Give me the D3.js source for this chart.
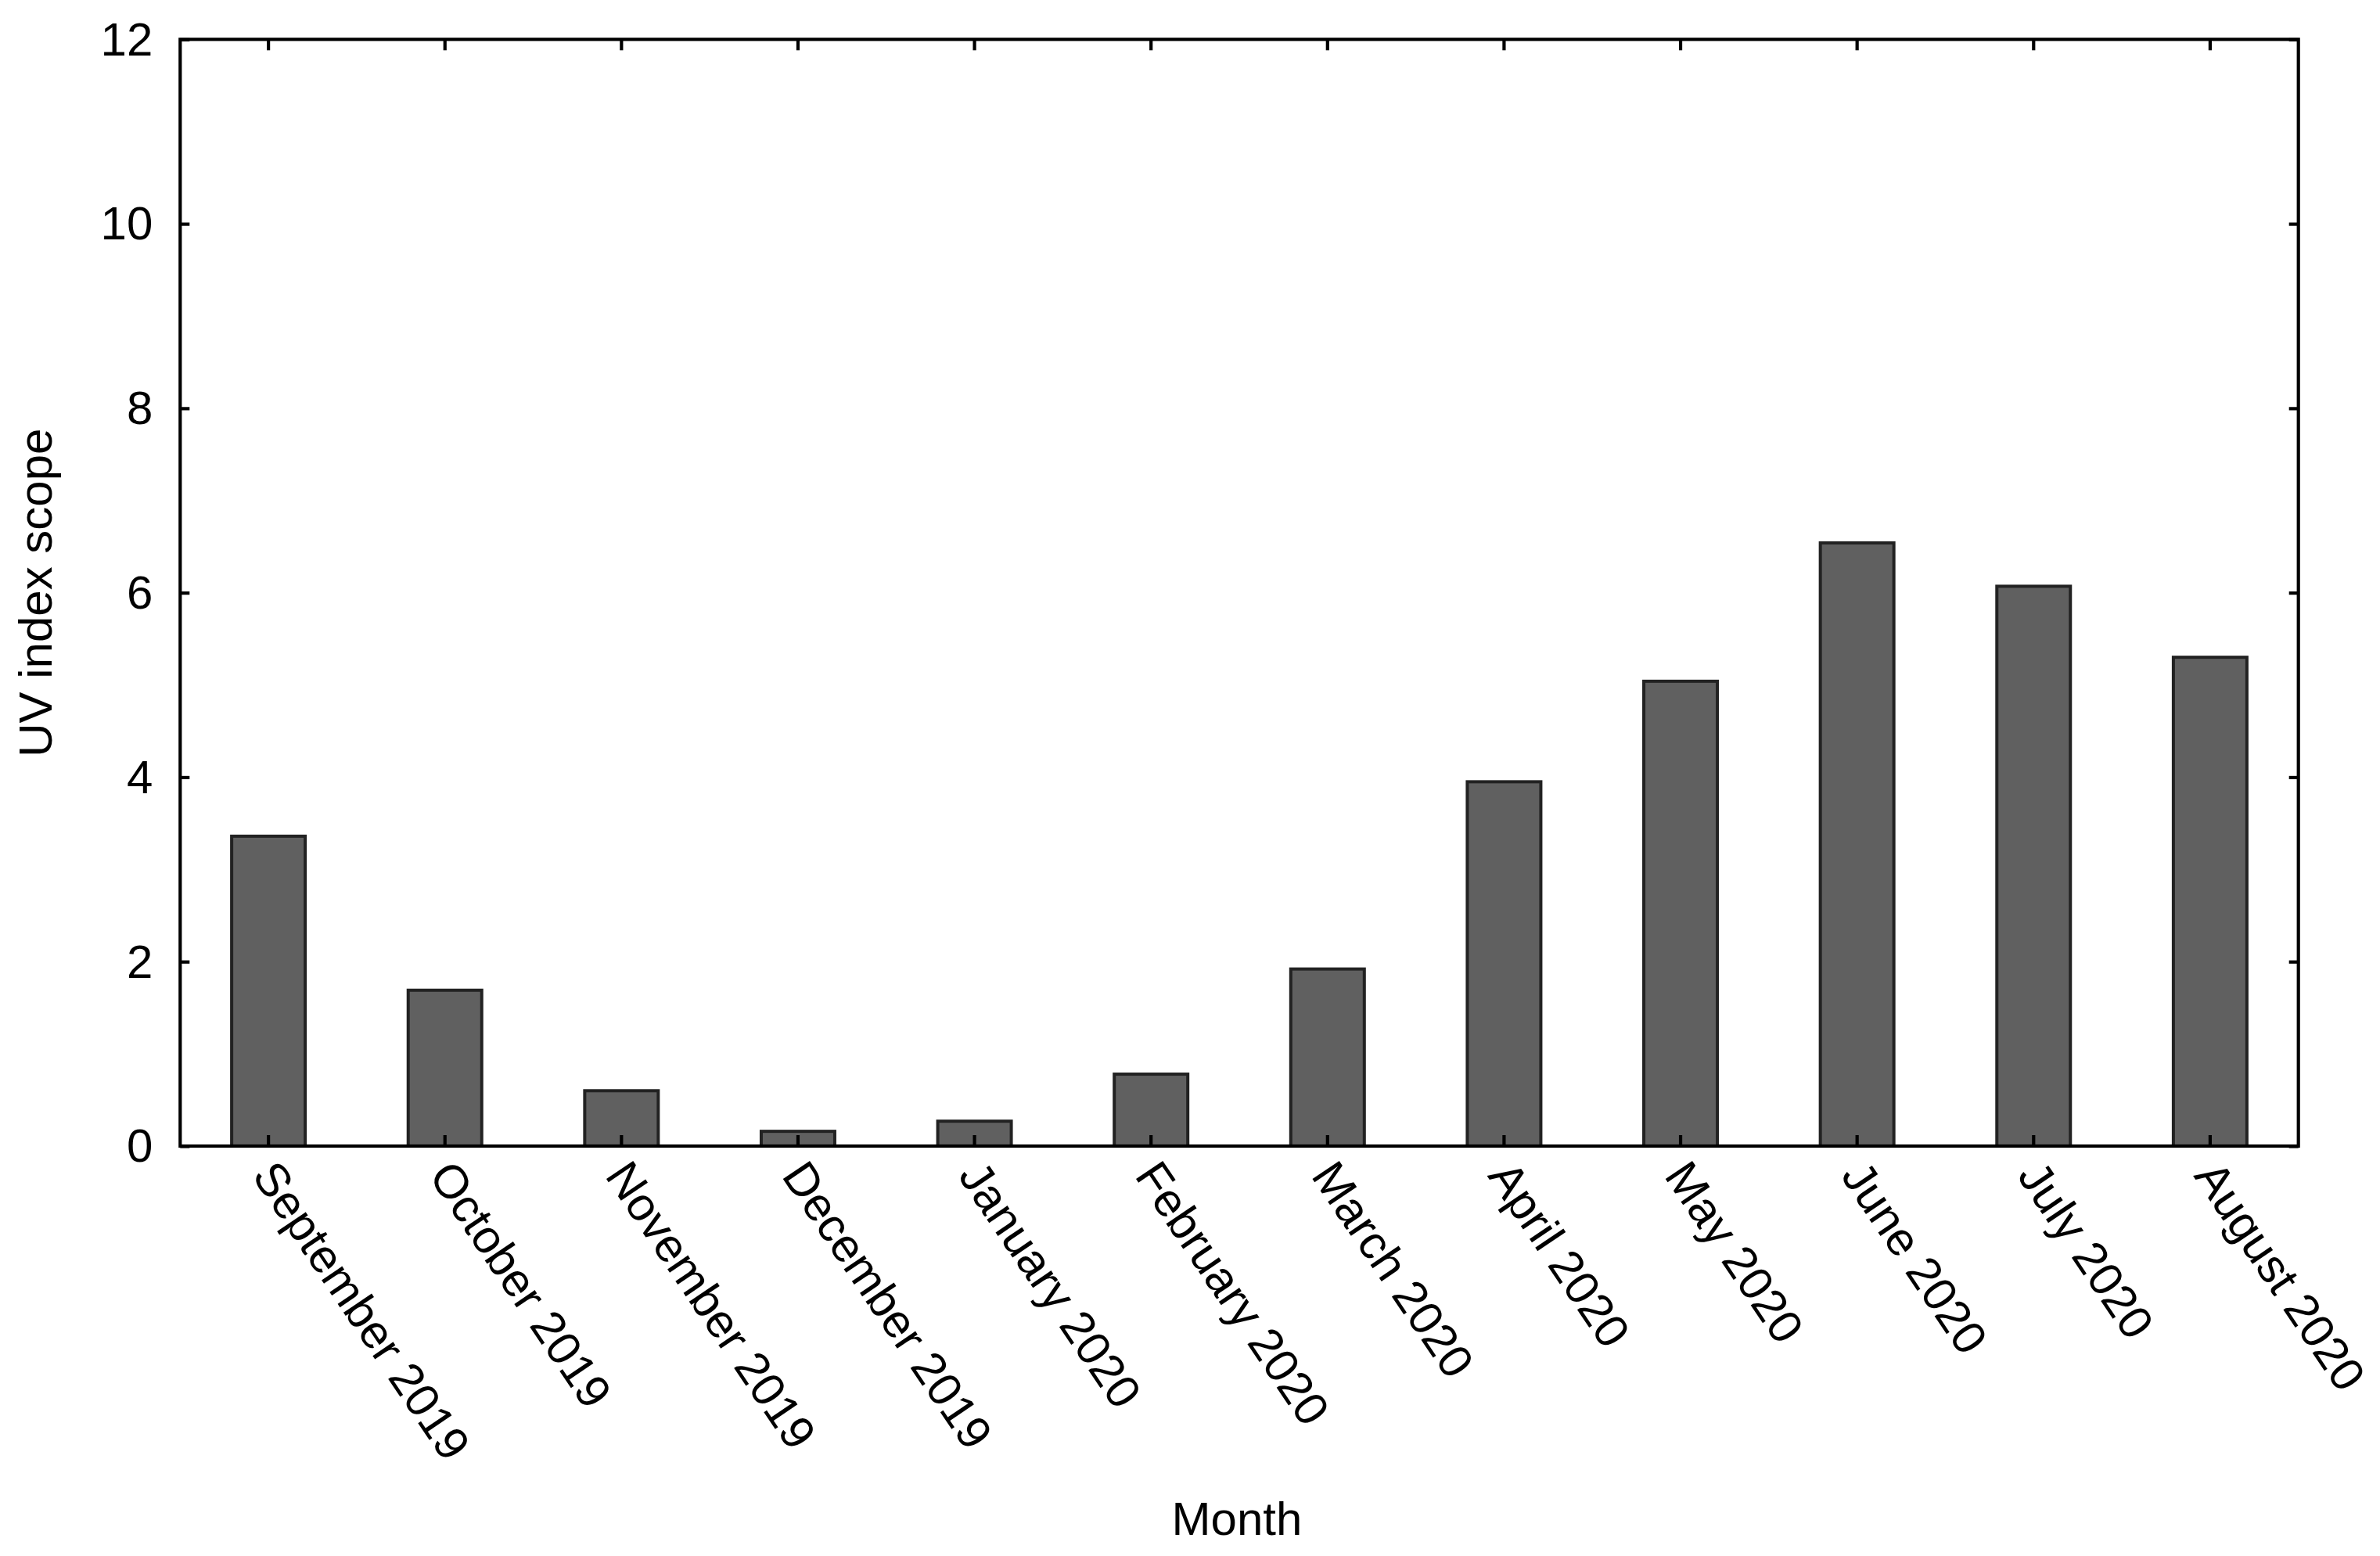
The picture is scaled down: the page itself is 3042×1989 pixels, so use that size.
<!DOCTYPE html>
<html>
<head>
<meta charset="utf-8">
<script src="https://cdn.jsdelivr.net/npm/d3@7"></script>
<style>
  html, body { margin: 0; padding: 0; background: #fff; }
  svg { display: block; }
  text { font-family: "Liberation Sans", Arial, sans-serif; fill: #000; }
</style>
</head>
<body>
<script>
const categories = ["September 2019", "October 2019", "November 2019", "December 2019",
  "January 2020", "February 2020", "March 2020", "April 2020", "May 2020",
  "June 2020", "July 2020", "August 2020"];
const uvValues = [3.36, 1.69, 0.60, 0.16, 0.27, 0.78, 1.92, 3.95, 5.04, 6.54, 6.07, 5.30];
const yTicks = [0, 2, 4, 6, 8, 10, 12];
const xTitle = "Month";
const yTitle = "UV index scope";

(function () {
const W = 3042, H = 1989;
const pLeft = 230.3, pRight = 2937.7, pTop = 50.3, pBottom = 1465;

const svg = d3.select("body").append("svg").attr("width", W).attr("height", H);

const x = d3.scaleBand().domain(categories).range([pLeft, pRight]).padding(0);
const y = d3.scaleLinear().domain([0, 12]).range([pBottom, pTop]);
const barW = 94;

// bars
svg.append("g").selectAll("rect").data(uvValues).join("rect")
  .attr("x", (d, i) => x(categories[i]) + x.bandwidth() / 2 - barW / 2)
  .attr("y", d => y(d))
  .attr("width", barW)
  .attr("height", d => pBottom - y(d))
  .attr("fill", "#606060")
  .attr("stroke", "#222")
  .attr("stroke-width", 4);

// frame
svg.append("rect")
  .attr("x", pLeft).attr("y", pTop)
  .attr("width", pRight - pLeft).attr("height", pBottom - pTop)
  .attr("fill", "none").attr("stroke", "#000").attr("stroke-width", 4.2);

const fs = 60;
const ff = "'Liberation Sans', Arial, sans-serif";

// left axis
const gL = svg.append("g").attr("transform", `translate(${pLeft},0)`)
  .call(d3.axisLeft(y).tickValues(yTicks).tickSize(-12).tickPadding(35).tickFormat(d3.format("d")));
gL.select(".domain").remove();
gL.selectAll("line").attr("stroke", "#000").attr("stroke-width", 4.2);
gL.selectAll("text").attr("font-size", fs).attr("dy", "0.33em")
  .style("font-family", ff).attr("fill", "#000");

// right axis
const gR = svg.append("g").attr("transform", `translate(${pRight},0)`)
  .call(d3.axisRight(y).tickValues(yTicks).tickSize(-12).tickFormat(""));
gR.select(".domain").remove();
gR.selectAll("line").attr("stroke", "#000").attr("stroke-width", 4.2);

// top axis
const gT = svg.append("g").attr("transform", `translate(0,${pTop})`)
  .call(d3.axisTop(x).tickSize(-14).tickFormat(""));
gT.select(".domain").remove();
gT.selectAll("line").attr("stroke", "#000").attr("stroke-width", 4.2);

// bottom axis
const gB = svg.append("g").attr("transform", `translate(0,${pBottom})`)
  .call(d3.axisBottom(x).tickSize(-14));
gB.select(".domain").remove();
gB.selectAll("line").attr("stroke", "#000").attr("stroke-width", 4.2);
gB.selectAll("text")
  .attr("font-size", fs)
  .style("font-family", ff)
  .attr("fill", "#000")
  .attr("x", 0).attr("y", 0).attr("dy", 0)
  .attr("text-anchor", "start")
  .attr("transform", "translate(-22,38) rotate(56)");

// titles
svg.append("text")
  .attr("x", (pLeft + pRight) / 2 - 3).attr("y", 1962)
  .attr("text-anchor", "middle").attr("font-size", fs)
  .style("font-family", ff)
  .text(xTitle);

svg.append("text")
  .attr("transform", `translate(66,${(pTop + pBottom) / 2}) rotate(-90)`)
  .attr("text-anchor", "middle").attr("font-size", fs)
  .style("font-family", ff)
  .text(yTitle);
})();
</script>
</body>
</html>
